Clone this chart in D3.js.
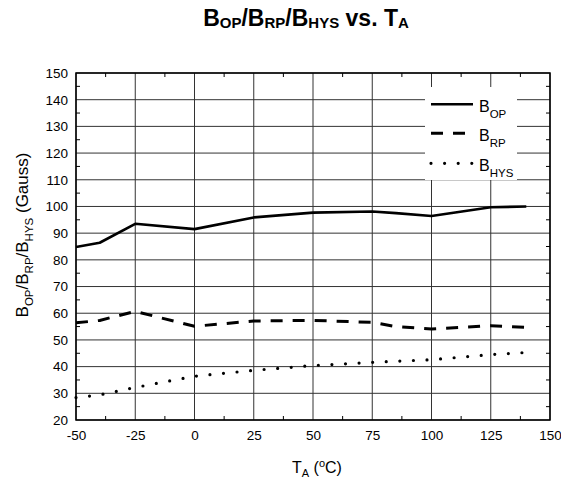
<!DOCTYPE html>
<html>
<head>
<meta charset="utf-8">
<script src="https://cdn.jsdelivr.net/npm/d3@7"></script>
<style>
  html, body { margin: 0; padding: 0; background: #fff; }
  svg { display: block; font-family: "Liberation Sans", Arial, sans-serif; }
</style>
</head>
<body>
<svg id="chart" width="561" height="480"></svg>
<script>
// ---- data ----
const temps = [-50, -40, -25, 0, 25, 50, 75, 85, 100, 125, 140];
const bop   = [84.8, 86.4, 93.5, 91.5, 95.9, 97.7, 98.1, 97.5, 96.4, 99.7, 100.0];
const brp   = [56.4, 57.3, 60.7, 55.1, 57.1, 57.3, 56.6, 55.0, 54.1, 55.3, 54.7];
const bhys  = [28.4, 29.4, 32.2, 36.4, 38.6, 40.4, 41.6, 42.0, 42.6, 44.5, 45.3];
const xTicks = [-50, -25, 0, 25, 50, 75, 100, 125, 150];
const yTicks = [20, 30, 40, 50, 60, 70, 80, 90, 100, 110, 120, 130, 140, 150];
const seriesNames = [["B", "OP"], ["B", "RP"], ["B", "HYS"]];

const svg = d3.select("#chart");
const L = 76, R = 550, T = 73, B = 420;
const x = d3.scaleLinear().domain([-50, 150]).range([L, R]);
const y = d3.scaleLinear().domain([20, 150]).range([B, T]);

// grid
const g = svg.append("g");
g.selectAll("line.vg").data(xTicks).join("line")
  .attr("x1", d => x(d)).attr("x2", d => x(d)).attr("y1", T).attr("y2", B)
  .attr("stroke", "#333").attr("stroke-width", 1);
g.selectAll("line.hg").data(yTicks).join("line")
  .attr("x1", L).attr("x2", R).attr("y1", d => y(d)).attr("y2", d => y(d))
  .attr("stroke", "#333").attr("stroke-width", 1);

// minor ticks (inside)
const xMinor = d3.range(-50 + 12.5, 150, 25);
const yMinor = d3.range(25, 150, 10);
const tl = 4;
xMinor.forEach(v => {
  g.append("line").attr("x1", x(v)).attr("x2", x(v)).attr("y1", B).attr("y2", B - tl).attr("stroke", "#000");
  g.append("line").attr("x1", x(v)).attr("x2", x(v)).attr("y1", T).attr("y2", T + tl).attr("stroke", "#000");
});
yMinor.forEach(v => {
  g.append("line").attr("x1", L).attr("x2", L + tl).attr("y1", y(v)).attr("y2", y(v)).attr("stroke", "#000");
  g.append("line").attr("x1", R).attr("x2", R - tl).attr("y1", y(v)).attr("y2", y(v)).attr("stroke", "#000");
});

// frame
svg.append("rect").attr("x", L).attr("y", T).attr("width", R - L).attr("height", B - T)
  .attr("fill", "none").attr("stroke", "#000").attr("stroke-width", 1.5);

// axes labels (tick labels)
const fmt = d => String(d);
const xAxis = d3.axisBottom(x).tickValues(xTicks).tickFormat(fmt).tickSize(0).tickPadding(10);
const xa = svg.append("g").attr("transform", `translate(0,${B})`).call(xAxis);
xa.select(".domain").remove();
xa.selectAll("text").attr("font-size", 13.5).attr("fill", "#000").attr("font-family", "Liberation Sans, Arial, sans-serif");

const yAxis = d3.axisLeft(y).tickValues(yTicks).tickFormat(fmt).tickSize(0).tickPadding(8);
const ya = svg.append("g").attr("transform", `translate(${L},0)`).call(yAxis);
ya.select(".domain").remove();
ya.selectAll("text").attr("font-size", 13.5).attr("fill", "#000").attr("font-family", "Liberation Sans, Arial, sans-serif");

// series lines
const mk = vals => temps.map((t, i) => [t, vals[i]]);
const line = d3.line().x(d => x(d[0])).y(d => y(d[1]));
const styles = [
  { data: bop, dash: null, w: 2.6, cap: "butt" },
  { data: brp, dash: "12 10", w: 3, cap: "butt" },
  { data: bhys, dash: "0 13.6", w: 3.2, cap: "round" }
];
styles.forEach(s => {
  svg.append("path").attr("d", line(mk(s.data)))
    .attr("fill", "none").attr("stroke", "#000").attr("stroke-width", s.w)
    .attr("stroke-linecap", s.cap).attr("stroke-linejoin", "round")
    .attr("stroke-dasharray", s.dash);
});

// legend
svg.append("rect").attr("x", 425).attr("y", 87).attr("width", 92).attr("height", 93).attr("fill", "#fff");
const legY = [104.3, 133.3, 163.3];
styles.forEach((s, i) => {
  svg.append("line").attr("x1", 431).attr("x2", 473).attr("y1", legY[i]).attr("y2", legY[i])
    .attr("stroke", "#000").attr("stroke-width", s.w).attr("stroke-linecap", s.cap)
    .attr("stroke-dasharray", s.dash);
  const t = svg.append("text").attr("x", 479).attr("y", legY[i] + 7.5).attr("font-size", 16);
  t.append("tspan").text(seriesNames[i][0]);
  t.append("tspan").attr("font-size", 11.5).attr("dy", 6.5).text(seriesNames[i][1]);
});

// title
const title = svg.append("text").attr("x", 306).attr("y", 26).attr("text-anchor", "middle")
  .attr("font-size", 23).attr("font-weight", "bold");
const titleParts = [["B", 0], ["OP", 1], ["/B", 0], ["RP", 1], ["/B", 0], ["HYS", 1], [" vs. T", 0], ["A", 1]];
let prevSub = 0;
titleParts.forEach(([txt, sub]) => {
  const dy = sub === prevSub ? 0 : (sub ? 2 : -2);
  title.append("tspan").attr("font-size", sub ? 15 : 23).attr("dy", dy).text(txt);
  prevSub = sub;
});

// x axis title
const xt = svg.append("text").attr("x", 317).attr("y", 472.5).attr("text-anchor", "middle").attr("font-size", 16);
xt.append("tspan").text("T");
xt.append("tspan").attr("font-size", 11).attr("dy", 4).text("A");
xt.append("tspan").attr("dy", -4).text(" (");
xt.append("tspan").attr("font-size", 11).attr("dy", -6).text("o");
xt.append("tspan").attr("dy", 6).text("C)");

// y axis title
const yt = svg.append("text").attr("transform", "translate(28,235) rotate(-90)")
  .attr("text-anchor", "middle").attr("font-size", 17);
const ytParts = [["B", 0], ["OP", 1], ["/B", 0], ["RP", 1], ["/B", 0], ["HYS", 1], [" (Gauss)", 0]];
prevSub = 0;
ytParts.forEach(([txt, sub]) => {
  const dy = sub === prevSub ? 0 : (sub ? 5 : -5);
  yt.append("tspan").attr("font-size", sub ? 11.5 : 17).attr("dy", dy).text(txt);
  prevSub = sub;
});
</script>
</body>
</html>
